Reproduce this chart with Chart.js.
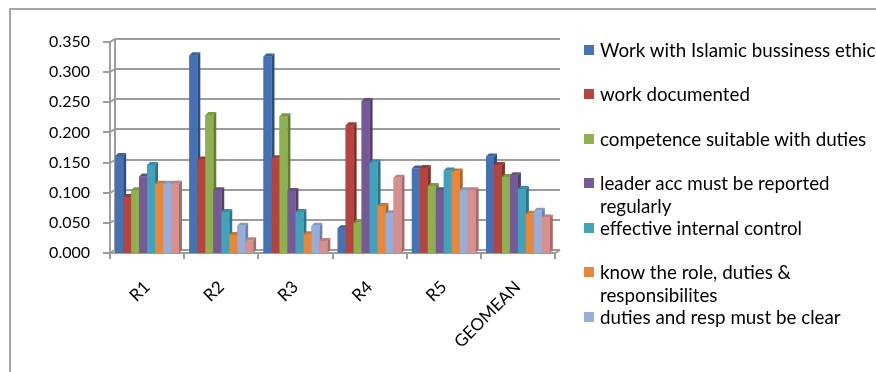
<!DOCTYPE html>
<html>
<head>
<meta charset="utf-8">
<script src="https://cdn.jsdelivr.net/npm/chart.js@4/dist/chart.umd.min.js"></script>
<style>
  html, body { margin: 0; padding: 0; width: 876px; height: 372px; overflow: hidden; background: #fff; }
  #wrap { position: relative; width: 876px; height: 372px; overflow: hidden; }
  #frame { position: absolute; left: 9px; top: 8px; width: 920px; height: 420px; border: 2px solid #a6a6a6; box-sizing: border-box; }
  #chart { position: absolute; left: 0; top: 0; }
  #legend { position: absolute; left: 584px; top: 0; width: 300px; font-family: Lato, "Open Sans", sans-serif; font-size: 18.8px; color: #000; }
  .item { position: absolute; left: 0; width: 288px; padding-left: 16px; line-height: 23px; white-space: normal; }
  .sw { position: absolute; left: 0; top: 7px; width: 10px; height: 10px; }
</style>
</head>
<body>
<div id="wrap">
  <div id="frame"></div>
  <canvas id="chart" width="876" height="372"></canvas>
  <div id="legend"></div>
</div>
<script>
// Categories and tick values
const categories = ['R1', 'R2', 'R3', 'R4', 'R5', 'GEOMEAN'];
const yTicks = [0, 0.05, 0.10, 0.15, 0.20, 0.25, 0.30, 0.35];

// Series values, one array per criterion
const islamicEthic    = [0.161, 0.328, 0.326, 0.041, 0.140, 0.160];
const workDocumented  = [0.093, 0.155, 0.157, 0.212, 0.141, 0.146];
const competence      = [0.104, 0.229, 0.227, 0.050, 0.111, 0.126];
const leaderAcc       = [0.127, 0.104, 0.103, 0.252, 0.104, 0.129];
const internalControl = [0.146, 0.068, 0.068, 0.150, 0.137, 0.106];
const knowRole        = [0.115, 0.030, 0.031, 0.078, 0.135, 0.065];
const dutiesClear     = [0.115, 0.045, 0.045, 0.066, 0.104, 0.070];
const series8         = [0.115, 0.021, 0.020, 0.125, 0.104, 0.059];

const seriesNames = [
  'Work with Islamic bussiness ethic',
  'work documented',
  'competence suitable with duties',
  'leader acc must be reported regularly',
  'effective internal control',
  'know the role, duties & responsibilites',
  'duties and resp must be clear',
  'Series 8'
];
const seriesValues = [islamicEthic, workDocumented, competence, leaderAcc,
                      internalControl, knowRole, dutiesClear, series8];

// Face colours: front, side (shaded), top
const frontColors = ['#4572B2', '#B5443F', '#8FB04F', '#765A98', '#42A2BC', '#E8873A', '#97AEDA', '#D6918F'];
const sideColors  = ['#2C4F80', '#82302C', '#647D36', '#52406C', '#2C7587', '#AD6127', '#6B82AE', '#A66A68'];
const topColors   = ['#3A629C', '#9C3A36', '#7B9944', '#654E84', '#388CA3', '#CC7632', '#8299C6', '#BE7F7D'];

const FONT = 'Lato';
const DEPTH_X = 3, DEPTH_Y = 3;   // bar depth
const WALL_X = 5, WALL_Y = 3;     // back wall offset

// Back wall, gridlines and floor
const wallPlugin = {
  id: 'wall',
  beforeDatasetsDraw(chart) {
    const { ctx, chartArea: { left, right, top, bottom }, scales: { y } } = chart;
    ctx.save();
    ctx.strokeStyle = '#9c9c9c';
    ctx.lineWidth = 2;
    yTicks.forEach(v => {
      const py = Math.round(y.getPixelForValue(v));
      ctx.beginPath();
      ctx.moveTo(left - 7, py);
      ctx.lineTo(left, py);
      ctx.lineTo(left + WALL_X, py - WALL_Y);
      ctx.lineTo(right + WALL_X, py - WALL_Y);
      ctx.stroke();
    });
    // vertical edges
    ctx.beginPath();
    ctx.moveTo(left, Math.round(y.getPixelForValue(0.35)));
    ctx.lineTo(left, bottom);
    ctx.moveTo(left + WALL_X, Math.round(y.getPixelForValue(0.35)) - WALL_Y);
    ctx.lineTo(left + WALL_X, bottom - WALL_Y);
    ctx.stroke();
    // floor front edge
    ctx.beginPath();
    ctx.moveTo(left, bottom);
    ctx.lineTo(right, bottom);
    ctx.lineTo(right + WALL_X, bottom - WALL_Y);
    ctx.stroke();
    // category separators
    const step = (right - left) / categories.length;
    ctx.beginPath();
    for (let i = 0; i <= categories.length; i++) {
      const px = Math.round(left + i * step);
      ctx.moveTo(px, bottom);
      ctx.lineTo(px, bottom + 6);
    }
    ctx.stroke();
    ctx.restore();
  }
};

// Redraw every bar with side and top faces, category by category
const bar3dPlugin = {
  id: 'bar3d',
  afterDatasetsDraw(chart) {
    const { ctx } = chart;
    const metas = seriesValues.map((_, i) => chart.getDatasetMeta(i));
    ctx.save();
    for (let c = 0; c < categories.length; c++) {
      metas.forEach((meta, di) => {
        const el = meta.data[c];
        if (!el) return;
        const { x, y, base, width } = el.getProps(['x', 'y', 'base', 'width'], true);
        const l = x - width / 2, r = x + width / 2;
        // side
        ctx.fillStyle = sideColors[di];
        ctx.beginPath();
        ctx.moveTo(r, y);
        ctx.lineTo(r + DEPTH_X, y - DEPTH_Y);
        ctx.lineTo(r + DEPTH_X, base - DEPTH_Y);
        ctx.lineTo(r, base);
        ctx.closePath();
        ctx.fill();
        // top
        ctx.fillStyle = topColors[di];
        ctx.beginPath();
        ctx.moveTo(l, y);
        ctx.lineTo(l + DEPTH_X, y - DEPTH_Y);
        ctx.lineTo(r + DEPTH_X, y - DEPTH_Y);
        ctx.lineTo(r, y);
        ctx.closePath();
        ctx.fill();
        // front
        ctx.fillStyle = frontColors[di];
        ctx.fillRect(l, y, width, base - y);
      });
    }
    ctx.restore();
  }
};

const chart = new Chart(document.getElementById('chart').getContext('2d'), {
  type: 'bar',
  data: {
    labels: categories,
    datasets: seriesValues.map((vals, i) => ({
      label: seriesNames[i],
      data: vals,
      backgroundColor: frontColors[i],
      borderWidth: 0,
      categoryPercentage: 0.86,
      barPercentage: 1
    }))
  },
  options: {
    responsive: false,
    animation: false,
    layout: { padding: { left: 30, top: 42, right: 321, bottom: 0 } },
    plugins: { legend: { display: false }, tooltip: { enabled: false } },
    scales: {
      y: {
        min: 0, max: 0.35,
        afterBuildTicks(scale) { scale.ticks = yTicks.map(v => ({ value: v })); },
        ticks: {
          callback: v => Number(v).toFixed(3),
          font: { family: FONT, size: 16 },
          color: '#000',
          padding: 20
        },
        grid: { display: false, drawTicks: false },
        border: { display: false },
        afterFit(scale) { scale.width = 80; }
      },
      x: {
        ticks: {
          minRotation: 45, maxRotation: 45,
          font: { family: FONT, size: 17 },
          color: '#000',
          padding: 24
        },
        grid: { display: false, drawTicks: false },
        border: { display: false },
        afterFit(scale) { scale.height = 119; }
      }
    }
  },
  plugins: [wallPlugin, bar3dPlugin]
});

// Legend (first seven series)
const legend = document.getElementById('legend');
seriesNames.slice(0, 7).forEach((name, i) => {
  const item = document.createElement('div');
  item.className = 'item';
  item.style.top = (49 + i * 44.5 - 11.5) + 'px';
  const sw = document.createElement('span');
  sw.className = 'sw';
  sw.style.background = frontColors[i];
  item.appendChild(sw);
  item.appendChild(document.createTextNode(name));
  legend.appendChild(item);
});
</script>
</body>
</html>
